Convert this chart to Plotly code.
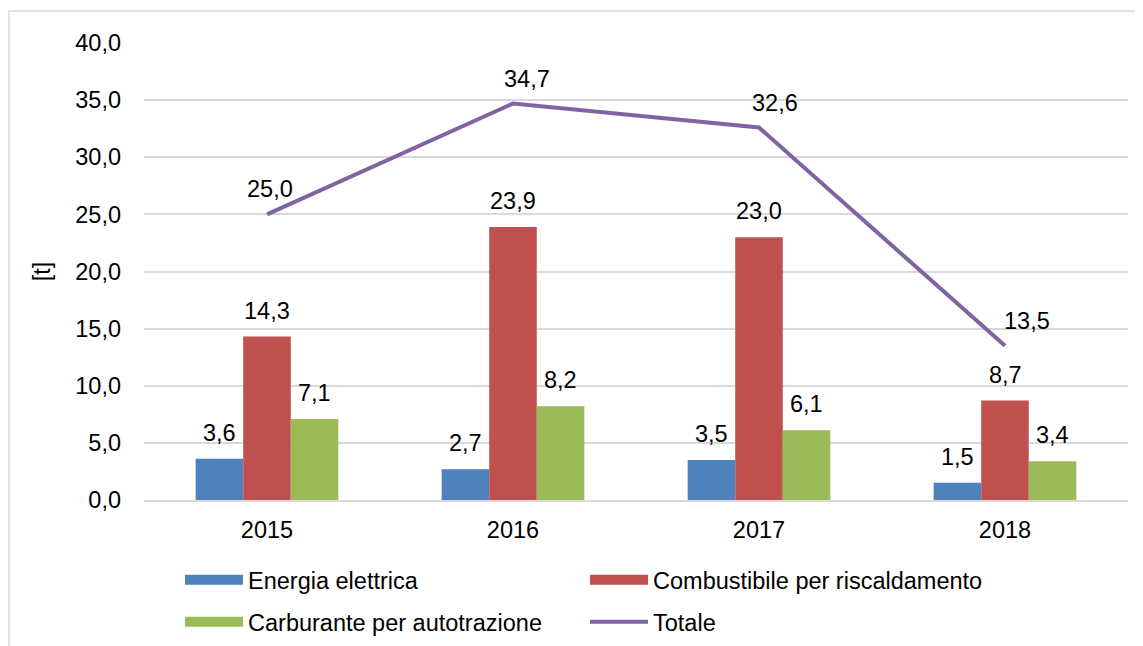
import plotly.graph_objects as go

years = ["2015", "2016", "2017", "2018"]
energia = [3.6, 2.7, 3.5, 1.5]
combustibile = [14.3, 23.9, 23.0, 8.7]
carburante = [7.1, 8.2, 6.1, 3.4]
totale = [25.0, 34.7, 32.6, 13.5]
y_ticks = [0, 5, 10, 15, 20, 25, 30, 35, 40]

def fmt(v):
    return f"{v:.1f}".replace(".", ",")

FONT = "Liberation Sans, Arial, sans-serif"
fs = 23.5
BARGAP = 0.42

series = [
    ("Energia elettrica", energia, "#4F81BD", "legend"),
    ("Combustibile per riscaldamento", combustibile, "#C0504D", "legend"),
    ("Carburante per autotrazione", carburante, "#9BBB59", "legend2"),
]

fig = go.Figure()
for name, vals, col, lg in series:
    fig.add_trace(go.Bar(
        x=years, y=vals, name=name, showlegend=False,
        marker=dict(color=col, line=dict(width=0)),
    ))
    # legend entry with a wide rectangular swatch
    fig.add_trace(go.Scatter(
        x=[None], y=[None], name=name, mode="lines", legend=lg,
        line=dict(color=col, width=13), hoverinfo="skip",
    ))

fig.add_trace(go.Scatter(
    x=years, y=totale, name="Totale", mode="lines", legend="legend2",
    line=dict(color="#8064A2", width=4),
))

# data labels (annotations positioned from the data values)
annotations = []
nb = len(series)
bw = (1 - BARGAP) / nb
for k, (name, vals, col, lg) in enumerate(series):
    off = (k - (nb - 1) / 2) * bw
    for i, v in enumerate(vals):
        annotations.append(dict(x=i + off, y=v, xref="x", yref="y", text=fmt(v),
                                showarrow=False, yanchor="bottom", yshift=11,
                                font=dict(size=fs, color="#000")))
line_dx = [3, 14, 16, 22]
for i, v in enumerate(totale):
    annotations.append(dict(x=i, y=v, xref="x", yref="y", text=fmt(v),
                            showarrow=False, yanchor="bottom", yshift=10,
                            xshift=line_dx[i], font=dict(size=fs, color="#000")))

leg_common = dict(orientation="h", xanchor="left", yanchor="middle",
                  entrywidth=332, entrywidthmode="pixels", itemwidth=58,
                  font=dict(size=fs, color="#000"), traceorder="normal",
                  bgcolor="rgba(0,0,0,0)")

fig.update_layout(
    width=1135, height=638,
    margin=dict(l=136, r=15, t=35, b=146, autoexpand=False),
    paper_bgcolor="white", plot_bgcolor="white",
    font=dict(family=FONT, size=fs, color="#000"),
    barmode="group", bargap=BARGAP, bargroupgap=0,
    showlegend=True,
    legend=dict(x=0.0366, y=-0.175, **leg_common),
    legend2=dict(x=0.0366, y=-0.267, **leg_common),
    annotations=annotations,
    shapes=[dict(type="rect", xref="paper", yref="paper",
                 x0=-0.1372, x1=1.03, y0=-0.4, y1=1.07,
                 line=dict(color="#D9D9D9", width=1.5), layer="below")],
)
fig.update_xaxes(showgrid=False, showline=True, linecolor="#D9D9D9", linewidth=1.5,
                 ticks="", tickfont=dict(size=fs), ticklabelstandoff=8)
fig.update_yaxes(range=[0, 40], tickvals=y_ticks, ticktext=[fmt(v) for v in y_ticks],
                 showgrid=True, gridcolor="#D9D9D9", gridwidth=1.5, zeroline=False,
                 showline=False, ticks="", tickfont=dict(size=fs),
                 title=dict(text="[t]", font=dict(size=fs), standoff=18),
                 ticklabelstandoff=22)

fig.write_html("out.html")
